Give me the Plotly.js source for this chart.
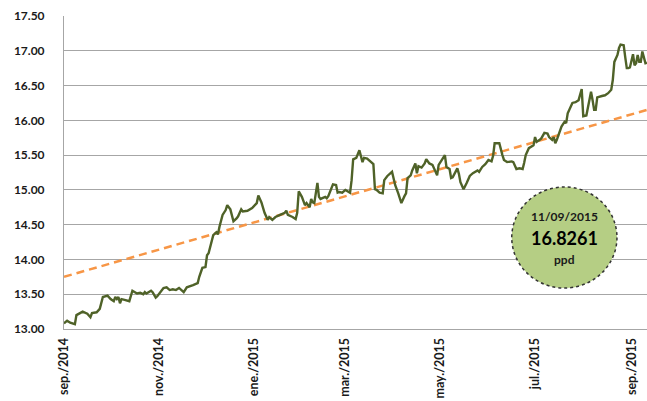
<!DOCTYPE html>
<html>
<head>
<meta charset="utf-8">
<script src="https://cdn.plot.ly/plotly-3.0.1.min.js"></script>
<style>
  html, body { margin: 0; padding: 0; background: #ffffff; }
  #chart { width: 647px; height: 401px; }
</style>
</head>
<body>
<div id="chart"></div>
<script>
const dates = [
  '2014-09-01','2014-09-03','2014-09-05','2014-09-08','2014-09-09','2014-09-13','2014-09-16','2014-09-18','2014-09-19','2014-09-22',
  '2014-09-24','2014-09-25','2014-09-26','2014-09-29','2014-10-01','2014-10-03','2014-10-04','2014-10-05','2014-10-06','2014-10-07',
  '2014-10-08','2014-10-10','2014-10-13','2014-10-15','2014-10-17','2014-10-18','2014-10-20','2014-10-22','2014-10-23','2014-10-24',
  '2014-10-27','2014-10-28','2014-10-30','2014-10-31','2014-11-04','2014-11-06','2014-11-08','2014-11-10','2014-11-12','2014-11-14',
  '2014-11-17','2014-11-19','2014-11-23','2014-11-26','2014-11-27','2014-11-29','2014-12-01','2014-12-02','2014-12-03','2014-12-05',
  '2014-12-06','2014-12-08','2014-12-09','2014-12-10','2014-12-12','2014-12-14','2014-12-15','2014-12-17','2014-12-19','2014-12-21',
  '2014-12-22','2014-12-24','2014-12-25','2014-12-28','2014-12-31','2015-01-03','2015-01-04','2015-01-06','2015-01-08','2015-01-10',
  '2015-01-11','2015-01-13','2015-01-15','2015-01-18','2015-01-21','2015-01-22','2015-01-23','2015-01-26','2015-01-28','2015-01-29',
  '2015-01-30','2015-02-01','2015-02-03','2015-02-04','2015-02-06','2015-02-07','2015-02-08','2015-02-09','2015-02-11','2015-02-12',
  '2015-02-13','2015-02-16','2015-02-17','2015-02-18','2015-02-21','2015-02-23','2015-02-24','2015-02-25','2015-02-27','2015-03-01',
  '2015-03-04','2015-03-05','2015-03-06','2015-03-08','2015-03-10','2015-03-12','2015-03-13','2015-03-15','2015-03-18','2015-03-19',
  '2015-03-20','2015-03-21','2015-03-23','2015-03-25','2015-03-26','2015-03-28','2015-03-31','2015-04-02','2015-04-04','2015-04-06',
  '2015-04-08','2015-04-09','2015-04-10','2015-04-12','2015-04-13','2015-04-14','2015-04-15','2015-04-16','2015-04-17','2015-04-19',
  '2015-04-21','2015-04-22','2015-04-24','2015-04-26','2015-04-29','2015-04-30','2015-05-02','2015-05-04','2015-05-05','2015-05-07',
  '2015-05-08','2015-05-09','2015-05-12','2015-05-13','2015-05-14','2015-05-16','2015-05-18','2015-05-20','2015-05-22','2015-05-25',
  '2015-05-26','2015-05-28','2015-05-30','2015-06-01','2015-06-03','2015-06-04','2015-06-05','2015-06-08','2015-06-10','2015-06-11',
  '2015-06-13','2015-06-16','2015-06-17','2015-06-19','2015-06-21','2015-06-23','2015-06-24','2015-06-25','2015-06-27','2015-06-30',
  '2015-07-01','2015-07-02','2015-07-04','2015-07-05','2015-07-07','2015-07-09','2015-07-10','2015-07-12','2015-07-13','2015-07-14',
  '2015-07-15','2015-07-16','2015-07-18','2015-07-20','2015-07-21','2015-07-22','2015-07-25','2015-07-27','2015-07-29','2015-07-31',
  '2015-08-01','2015-08-03','2015-08-04','2015-08-06','2015-08-07','2015-08-08','2015-08-09','2015-08-10','2015-08-13','2015-08-15',
  '2015-08-17','2015-08-19','2015-08-20','2015-08-21','2015-08-23','2015-08-24','2015-08-25','2015-08-27','2015-08-28','2015-08-29',
  '2015-08-30','2015-08-31','2015-09-02','2015-09-03','2015-09-04','2015-09-05','2015-09-06','2015-09-07','2015-09-08','2015-09-10',
  '2015-09-11'
];
const values = [
  13.08,13.12,13.09,13.07,13.20,13.25,13.22,13.17,13.23,13.24,
  13.29,13.39,13.46,13.48,13.43,13.40,13.46,13.43,13.46,13.37,
  13.43,13.42,13.40,13.55,13.53,13.51,13.52,13.50,13.53,13.51,
  13.55,13.53,13.45,13.47,13.59,13.60,13.56,13.57,13.56,13.59,
  13.53,13.60,13.63,13.66,13.75,13.88,13.89,14.06,14.09,14.25,
  14.35,14.39,14.36,14.47,14.64,14.71,14.78,14.72,14.55,14.59,
  14.62,14.72,14.69,14.70,14.74,14.81,14.92,14.82,14.67,14.57,
  14.61,14.57,14.61,14.64,14.67,14.70,14.64,14.61,14.58,14.67,
  14.98,14.90,14.78,14.81,14.75,14.87,14.82,14.81,15.10,14.90,
  14.87,14.90,14.88,14.91,15.08,15.07,14.96,14.97,14.96,15.00,
  14.96,15.14,15.44,15.46,15.57,15.40,15.46,15.45,15.39,15.37,
  15.01,15.00,14.96,14.95,15.14,15.20,15.26,15.07,14.95,14.81,
  14.91,14.95,15.17,15.21,15.28,15.33,15.38,15.24,15.34,15.32,
  15.38,15.44,15.38,15.36,15.21,15.36,15.44,15.50,15.33,15.30,
  15.17,15.18,15.31,15.23,15.11,15.01,15.10,15.20,15.24,15.28,
  15.26,15.33,15.37,15.43,15.41,15.49,15.67,15.67,15.50,15.43,
  15.40,15.41,15.40,15.30,15.31,15.30,15.39,15.50,15.60,15.64,
  15.76,15.69,15.72,15.74,15.82,15.81,15.76,15.72,15.76,15.67,
  15.72,15.79,15.91,15.98,15.96,16.10,16.25,16.26,16.29,16.45,
  16.06,16.07,16.19,16.41,16.29,16.15,16.15,16.33,16.35,16.36,
  16.39,16.44,16.58,16.84,16.94,17.04,17.09,17.08,16.91,16.75,
  16.75,16.76,16.95,16.79,16.82,16.94,16.84,16.84,16.99,16.82,
  16.8261
];
const trendDates = ['2014-09-01', '2015-09-11'];
const trendValues = [13.75, 16.15];
const tickDates = ['2014-09-01','2014-11-01','2015-01-01','2015-03-01','2015-05-01','2015-07-01','2015-09-01'];
const tickLabels = ['sep./2014','nov./2014','ene./2015','mar./2015','may./2015','jul./2015','sep./2015'];
const yTicks = [13.0, 13.5, 14.0, 14.5, 15.0, 15.5, 16.0, 16.5, 17.0, 17.5];
const bubbleDate = '11/09/2015';
const bubbleValue = '16.8261';
const bubbleUnit = 'ppd';

const FONT = 'Lato, "Open Sans", "Liberation Sans", sans-serif';

const traces = [
  {
    x: trendDates, y: trendValues, type: 'scatter', mode: 'lines',
    line: { color: '#F79646', width: 2.5, dash: '8px,5px' },
    hoverinfo: 'skip', showlegend: false
  },
  {
    x: dates, y: values, type: 'scatter', mode: 'lines',
    line: { color: '#4F6228', width: 2.4 },
    hoverinfo: 'skip', showlegend: false
  }
];

const layout = {
  width: 647, height: 401,
  margin: { l: 64, r: 0, t: 16, b: 72 },
  paper_bgcolor: '#ffffff', plot_bgcolor: '#ffffff',
  font: { family: FONT, color: '#1a1a1a' },
  showlegend: false,
  xaxis: {
    type: 'date',
    range: ['2014-09-01', '2015-09-11'],
    tickmode: 'array', tickvals: tickDates, ticktext: tickLabels,
    tickangle: -90,
    tickfont: { family: FONT, size: 12.5, color: '#1a1a1a', weight: 'bold' },
    showgrid: false, zeroline: false,
    showline: true, linecolor: '#A6A6A6', linewidth: 1,
    ticks: '', ticklabelstandoff: 3
  },
  yaxis: {
    range: [13, 17.5],
    tickmode: 'array', tickvals: yTicks,
    tickformat: '.2f',
    tickfont: { family: FONT, size: 12, color: '#1a1a1a', weight: 'bold' },
    showgrid: true, gridcolor: '#A6A6A6', gridwidth: 1,
    zeroline: false,
    showline: true, linecolor: '#A6A6A6', linewidth: 1,
    ticks: '', ticklabelstandoff: 16
  },
  shapes: [
    {
      type: 'circle', xref: 'paper', yref: 'paper',
      x0: 0.768, x1: 0.9485, y0: 0.131, y1: 0.4537,
      fillcolor: '#B5CE84',
      line: { color: '#333333', width: 1.5, dash: 'dot' },
      layer: 'above'
    }
  ],
  annotations: [
    { xref: 'paper', yref: 'paper', x: 0.858, y: 0.361, xanchor: 'center', yanchor: 'middle',
      text: bubbleDate, showarrow: false,
      font: { family: FONT, size: 12, color: '#1a1a1a', weight: 'bold' } },
    { xref: 'paper', yref: 'paper', x: 0.858, y: 0.291, xanchor: 'center', yanchor: 'middle',
      text: bubbleValue, showarrow: false,
      font: { family: FONT, size: 18, color: '#000000', weight: 'bold' } },
    { xref: 'paper', yref: 'paper', x: 0.858, y: 0.222, xanchor: 'center', yanchor: 'middle',
      text: bubbleUnit, showarrow: false,
      font: { family: FONT, size: 12, color: '#1a1a1a', weight: 'bold' } }
  ]
};

Plotly.newPlot('chart', traces, layout, { displayModeBar: false, staticPlot: true });
</script>
</body>
</html>
